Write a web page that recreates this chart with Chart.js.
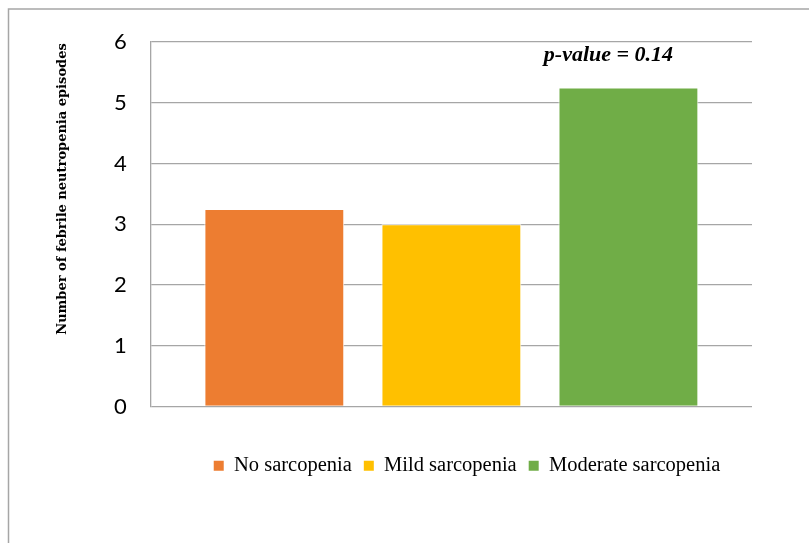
<!DOCTYPE html>
<html><head><meta charset="utf-8">
<script src="https://cdn.jsdelivr.net/npm/chart.js@4/dist/chart.umd.min.js"></script>
<style>html,body{margin:0;padding:0;background:#fff;}#wrap{width:809px;height:543px;position:relative;}</style>
</head><body><div id="wrap"><canvas id="c" width="809" height="543"></canvas></div>
<script>
const categories = ["No sarcopenia", "Mild sarcopenia", "Moderate sarcopenia"];
const episodes = [3.25, 3.0, 5.25];
const barColors = ["#ED7D31", "#FFC000", "#70AD47"];
const yTicks = [0, 1, 2, 3, 4, 5, 6];
const yTitle = "Number of febrile neutropenia episodes";
const pValueText = "p-value = 0.14";

const serif = "'Liberation Serif', 'Times New Roman', serif";

const decor = {
  id: 'decor',
  afterLayout(chart) {
    const lg = chart.legend;
    if (lg) {
      const shift = 467 - (lg.left + lg.right) / 2;
      lg.left += shift; lg.right += shift;
    }
  },
  beforeDraw(chart) {
    const ctx = chart.ctx;
    ctx.save();
    ctx.fillStyle = '#fff';
    ctx.fillRect(0, 0, chart.width, chart.height);
    ctx.strokeStyle = '#a6a6a6';
    ctx.lineWidth = 1.5;
    ctx.beginPath();
    ctx.moveTo(8.5, 543);
    ctx.lineTo(8.5, 9);
    ctx.lineTo(809, 9);
    ctx.stroke();
    ctx.restore();
  },
  afterDraw(chart) {
    const ctx = chart.ctx;
    const xs = chart.scales.x, ys = chart.scales.y;
    ctx.save();
    ctx.translate(63, 189);
    ctx.rotate(-Math.PI / 2);
    ctx.font = "bold 13px 'DejaVu Serif', serif";
    ctx.fillStyle = '#000';
    ctx.textAlign = 'center';
    ctx.textBaseline = 'middle';
    ctx.fillText(yTitle, 0, 0);
    ctx.restore();
    ctx.save();
    ctx.font = "italic bold 22px " + serif;
    ctx.fillStyle = '#000';
    ctx.textAlign = 'center';
    ctx.textBaseline = 'middle';
    ctx.fillText(pValueText, xs.getPixelForValue(2) - 20, ys.getPixelForValue(5.78));
    ctx.restore();
  }
};

new Chart(document.getElementById('c'), {
  type: 'bar',
  data: {
    datasets: [{
      data: episodes.map((v, i) => ({ x: i, y: v })),
      backgroundColor: barColors,
      borderColor: '#ffffff',
      borderWidth: 1,
      barPercentage: 0.79,
      categoryPercentage: 1.0
    }]
  },
  options: {
    responsive: false,
    animation: false,
    devicePixelRatio: 1,
    layout: { padding: { left: 90, right: 57, top: 42, bottom: 57 } },
    plugins: {
      tooltip: { enabled: false },
      legend: {
        display: true,
        position: 'bottom',
        labels: {
          font: { family: serif, size: 20.5 },
          color: '#000',
          boxWidth: 10,
          boxHeight: 10,
          padding: 12,
          generateLabels(chart) {
            return categories.map((c, i) => ({
              text: c, fillStyle: barColors[i], strokeStyle: barColors[i], lineWidth: 0, index: i, hidden: false
            }));
          }
        }
      }
    },
    scales: {
      x: {
        type: 'linear',
        offset: false,
        min: -0.698, max: 2.698,
        afterBuildTicks(scale) { scale.ticks = categories.map((c, i) => ({ value: i })); },
        ticks: { display: false },
        grid: { display: false },
        border: { display: false },
        afterFit(s) { s.height = 37; }
      },
      y: {
        min: 0, max: 6,
        afterBuildTicks(scale) { scale.ticks = yTicks.map(v => ({ value: v })); },
        ticks: { font: { family: "Lato, 'Open Sans', sans-serif", size: 22 }, color: '#000', padding: 24 },
        grid: { color: '#a6a6a6', lineWidth: 1.3, drawTicks: false },
        border: { display: true, color: '#a6a6a6', width: 1.3 }
      }
    }
  },
  plugins: [decor]
});
</script></body></html>
